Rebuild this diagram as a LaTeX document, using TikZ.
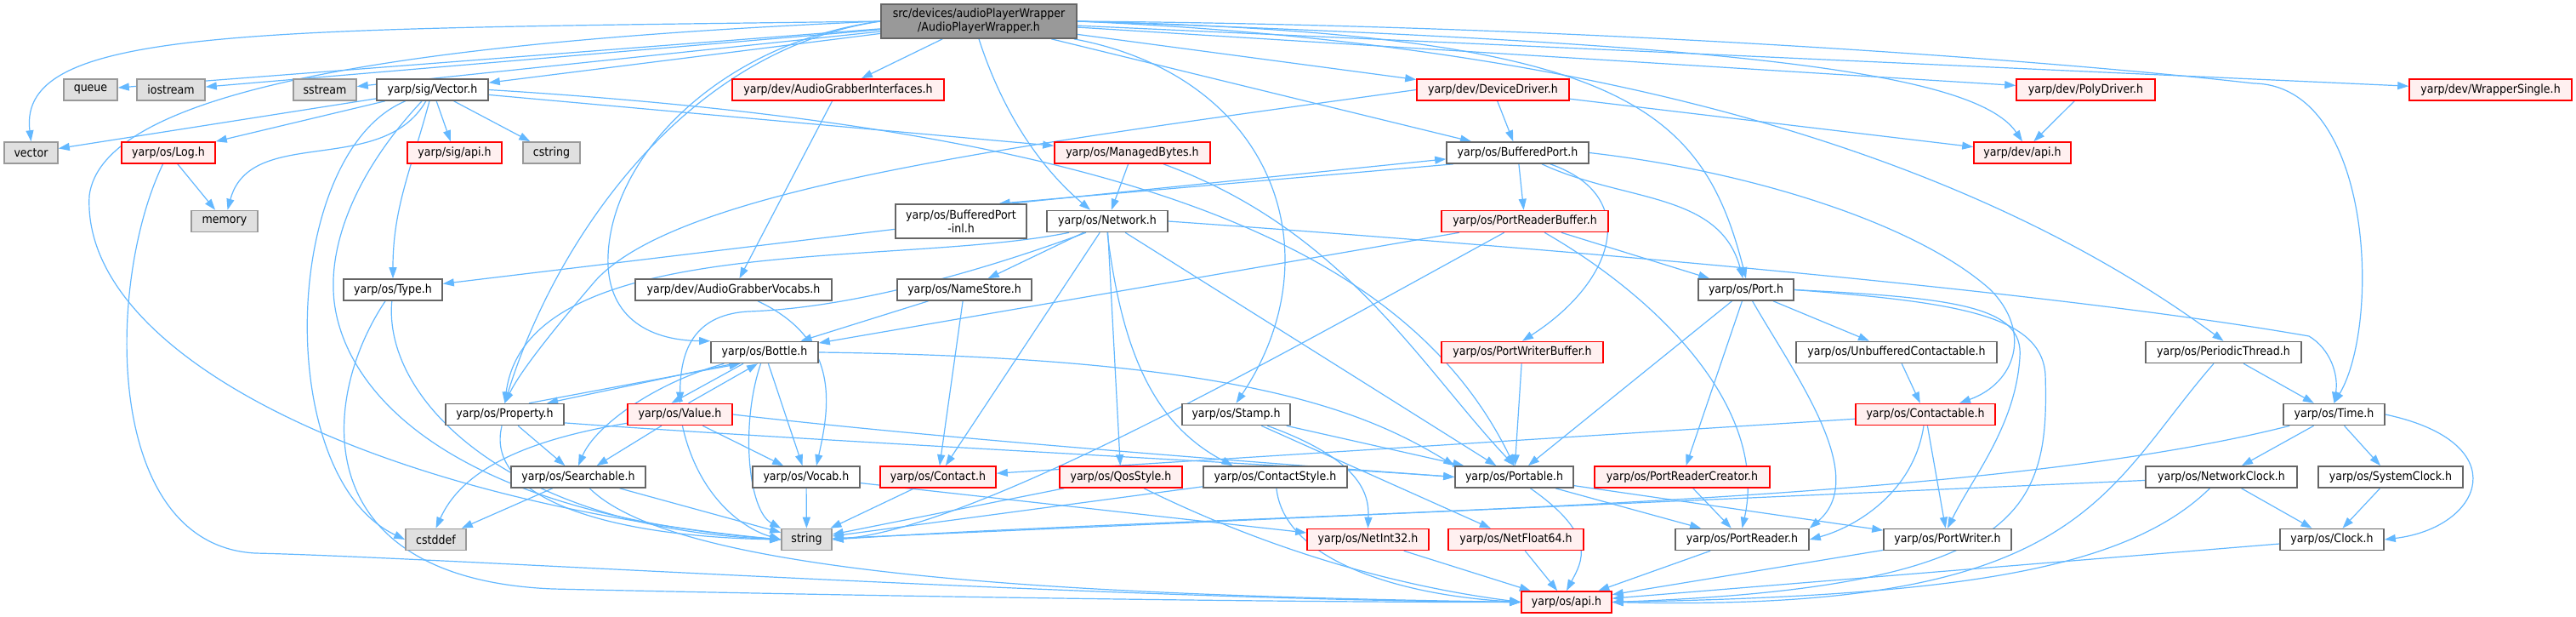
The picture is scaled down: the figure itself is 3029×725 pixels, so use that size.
\documentclass[tikz,border=0pt]{standalone}
\usepackage{fontspec}
\setmainfont{DejaVu Sans Condensed}
\usetikzlibrary{arrows.meta, backgrounds}

\definecolor{edgeblue}{HTML}{63B8FF}
\definecolor{boxgray}{HTML}{666666}
\definecolor{sysgray}{HTML}{999999}
\definecolor{sysfill}{HTML}{E0E0E0}
\definecolor{truncfill}{HTML}{FFF0F0}
\definecolor{rootfill}{HTML}{999999}

\tikzset{
  hdr/.style={draw=boxgray, fill=white, line width=1.6pt, minimum height=25pt,
    inner sep=2pt, font=\fontsize{14}{16}\selectfont},
  trunc/.style={hdr, draw=red, fill=truncfill},
  sys/.style={hdr, draw=sysgray, fill=sysfill},
  root/.style={hdr, fill=rootfill, minimum height=40pt, align=center},
  dep/.style={draw=edgeblue, line width=1.2pt, -{Triangle[length=13pt,width=9pt]}},
}

\begin{document}
\begin{tikzpicture}[x=1pt, y=-1pt]
  \useasboundingbox (0,0) rectangle (3029,725);

  % Root file
  \node[root, minimum width=230pt] (apw) at (1151,25) {src/devices/audioPlayerWrapper\\/AudioPlayerWrapper.h};

  % Row 1
  \node[sys, minimum width=63pt] (queue) at (106.5,105.5) {queue};
  \node[sys, minimum width=80pt] (iostream) at (201,105.5) {iostream};
  \node[sys, minimum width=74pt] (sstream) at (382,105.5) {sstream};
  \node[hdr, minimum width=131pt] (vecH) at (508.5,105.5) {yarp/sig/Vector.h};
  \node[trunc, minimum width=249pt] (agi) at (985.5,105.5) {yarp/dev/AudioGrabberInterfaces.h};
  \node[trunc, minimum width=179pt] (ddrv) at (1755.5,105.5) {yarp/dev/DeviceDriver.h};
  \node[trunc, minimum width=163pt] (poly) at (2452.5,105.5) {yarp/dev/PolyDriver.h};
  \node[trunc, minimum width=191pt] (wrap) at (2928.5,105.5) {yarp/dev/WrapperSingle.h};

  % Row 2
  \node[sys, minimum width=63pt] (vector) at (36.5,179.5) {vector};
  \node[trunc, minimum width=110pt] (log) at (198,179.5) {yarp/os/Log.h};
  \node[trunc, minimum width=111pt] (sigapi) at (534.5,179.5) {yarp/sig/api.h};
  \node[sys, minimum width=67pt] (cstring) at (648.5,179.5) {cstring};
  \node[trunc, minimum width=183pt] (mbytes) at (1331.5,179.5) {yarp/os/ManagedBytes.h};
  \node[hdr, minimum width=167pt] (bport) at (1784.5,179.5) {yarp/os/BufferedPort.h};
  \node[trunc, minimum width=114pt] (devapi) at (2378,179.5) {yarp/dev/api.h};

  % Row 3
  \node[sys, minimum width=78pt] (memory) at (264,260) {memory};
  \node[hdr, minimum width=154pt, minimum height=40pt, align=center] (bpinl) at (1130,260) {yarp/os/BufferedPort\\-inl.h};
  \node[hdr, minimum width=142pt] (network) at (1302,260) {yarp/os/Network.h};
  \node[trunc, minimum width=196pt] (prbuf) at (1793,260) {yarp/os/PortReaderBuffer.h};

  % Row 4
  \node[hdr, minimum width=116pt] (type) at (462,340.5) {yarp/os/Type.h};
  \node[hdr, minimum width=231pt] (agv) at (862.5,340.5) {yarp/dev/AudioGrabberVocabs.h};
  \node[hdr, minimum width=158pt] (nstore) at (1134,340.5) {yarp/os/NameStore.h};
  \node[hdr, minimum width=112pt] (port) at (2053,340.5) {yarp/os/Port.h};

  % Row 5
  \node[hdr, minimum width=126pt] (bottle) at (899,414) {yarp/os/Bottle.h};
  \node[trunc, minimum width=190pt] (pwbuf) at (1790,414) {yarp/os/PortWriterBuffer.h};
  \node[hdr, minimum width=236pt] (ucont) at (2230,414) {yarp/os/UnbufferedContactable.h};
  \node[hdr, minimum width=183pt] (pthread) at (2614.5,414) {yarp/os/PeriodicThread.h};

  % Row 6
  \node[hdr, minimum width=139pt] (property) at (593.5,487) {yarp/os/Property.h};
  \node[trunc, minimum width=123pt] (value) at (799.5,487) {yarp/os/Value.h};
  \node[hdr, minimum width=127pt] (stamp) at (1453.5,487) {yarp/os/Stamp.h};
  \node[trunc, minimum width=164pt] (contactable) at (2264,487) {yarp/os/Contactable.h};
  \node[hdr, minimum width=119pt] (time) at (2744.5,487) {yarp/os/Time.h};

  % Row 7
  \node[hdr, minimum width=158pt] (searchable) at (680,560.5) {yarp/os/Searchable.h};
  \node[hdr, minimum width=126pt] (vocab) at (948,560.5) {yarp/os/Vocab.h};
  \node[trunc, minimum width=136pt] (contact) at (1103,560.5) {yarp/os/Contact.h};
  \node[trunc, minimum width=144pt] (qos) at (1318,560.5) {yarp/os/QosStyle.h};
  \node[hdr, minimum width=169pt] (cstyle) at (1499.5,560.5) {yarp/os/ContactStyle.h};
  \node[hdr, minimum width=139pt] (portable) at (1780.5,560.5) {yarp/os/Portable.h};
  \node[trunc, minimum width=206pt] (prcreator) at (1978,560.5) {yarp/os/PortReaderCreator.h};
  \node[hdr, minimum width=178pt] (nclock) at (2612,560.5) {yarp/os/NetworkClock.h};
  \node[hdr, minimum width=170pt] (sclock) at (2811,560.5) {yarp/os/SystemClock.h};

  % Row 8
  \node[sys, minimum width=71pt] (cstddef) at (512.5,634) {cstddef};
  \node[sys, minimum width=59pt] (string) at (948.5,634) {string};
  \node[trunc, minimum width=143pt] (netint) at (1608.5,634) {yarp/os/NetInt32.h};
  \node[trunc, minimum width=159pt] (netfloat) at (1782.5,634) {yarp/os/NetFloat64.h};
  \node[hdr, minimum width=157pt] (preader) at (2048.5,634) {yarp/os/PortReader.h};
  \node[hdr, minimum width=150pt] (pwriter) at (2290,634) {yarp/os/PortWriter.h};
  \node[hdr, minimum width=122pt] (clock) at (2742,634) {yarp/os/Clock.h};

  % Row 9
  \node[trunc, minimum width=106pt] (osapi) at (1842,707.5) {yarp/os/api.h};

  \begin{pgfonlayer}{background}
    \fill[white] (0,0) rectangle (3029,725);

    % Includes of the root file
    \draw[dep] (apw.west) .. controls (300,35) and (20,30) .. (vector.north);
    \draw[dep] (apw) -- (queue);
    \draw[dep] (apw) -- (iostream);
    \draw[dep] (apw) -- (sstream);
    \draw[dep] (apw) -- (vecH);
    \draw[dep] (apw.west) .. controls (450,50) and (120,110) .. (105,230) .. controls (95,420) and (450,590) .. (string.west);
    \draw[dep] (apw.west) .. controls (800,60) and (650,290) .. (property.north);
    \draw[dep] (apw.west) .. controls (850,50) and (720,180) .. (715,300) .. controls (712,370) and (760,400) .. (bottle.north west);
    \draw[dep] (apw) -- (agi);
    \draw[dep] (apw.south) .. controls (1175,120) and (1215,190) .. ([xshift=-20pt]network.north);
    \draw[dep] (apw) .. controls (1500,90) and (1570,300) .. (stamp.north);
    \draw[dep] (apw) -- (ddrv);
    \draw[dep] (apw) -- (bport);
    \draw[dep] (apw.east) .. controls (1900,40) and (2000,120) .. (port.north);
    \draw[dep] (apw.east) .. controls (2000,50) and (2320,80) .. (devapi.north);
    \draw[dep] (apw) -- (poly);
    \draw[dep] (apw) -- (wrap);
    \draw[dep] (apw.east) .. controls (1850,50) and (2300,170) .. (pthread.north);
    \draw[dep] (apw.east) .. controls (1900,30) and (2450,75) .. (2650,98) .. controls (2790,100) and (2800,380) .. (time.north);

    % yarp/sig
    \draw[dep] (vecH) -- (vector);
    \draw[dep] (vecH) -- (log);
    \draw[dep] (vecH) to[out=240,in=75] (memory);
    \draw[dep] (vecH) -- (sigapi);
    \draw[dep] (vecH) -- (cstring);
    \draw[dep] (vecH) to[out=255,in=90] (type);
    \draw[dep] (vecH) .. controls (330,180) and (320,560) .. (cstddef.west);
    \draw[dep] (vecH) .. controls (420,200) and (390,280) .. (392,340) .. controls (394,440) and (500,600) .. (string.west);
    \draw[dep] (vecH) -- (mbytes);
    \draw[dep] (vecH.east) .. controls (1300,150) and (1650,280) .. (portable.north);
    \draw[dep] (log) -- (memory);
    \draw[dep] (log) .. controls (125,330) and (120,640) .. (300,650) .. controls (520,655) and (1300,705) .. (osapi.west);
    \draw[dep] (type) .. controls (450,470) and (600,620) .. (string.west);
    \draw[dep] (type) .. controls (375,470) and (360,680) .. (650,692) .. controls (1000,700) and (1500,708) .. (osapi.west);

    % yarp/dev
    \draw[dep] (agi) -- (agv);
    \draw[dep] (agv) .. controls (990,400) and (975,480) .. ([xshift=12pt]vocab.north);
    \draw[dep] (ddrv.west) .. controls (1200,170) and (800,220) .. (700,330) .. controls (640,400) and (610,440) .. (property.north);
    \draw[dep] (ddrv) -- (bport);
    \draw[dep] (ddrv) -- (devapi);
    \draw[dep] (poly) -- (devapi);

    % Ports and buffers
    \draw[dep] (mbytes) -- (network);
    \draw[dep] (mbytes) .. controls (1580,270) and (1670,430) .. (portable.north);
    \draw[dep] (bport.190) -- (bpinl.25);
    \draw[dep] (bpinl.20) -- (bport.185);
    \draw[dep] (bpinl) -- (type);
    \draw[dep] (bport) -- (prbuf);
    \draw[dep] (bport) to[out=-25,in=105] (port);
    \draw[dep] (bport) .. controls (1930,230) and (1900,330) .. (pwbuf.north);
    \draw[dep] (bport.east) .. controls (2050,200) and (2250,260) .. (2340,340) .. controls (2390,390) and (2370,450) .. ([xshift=40pt]contactable.north);
    \draw[dep] (prbuf) -- (bottle);
    \draw[dep] (prbuf) .. controls (1500,420) and (1150,620) .. (string.east);
    \draw[dep] (prbuf) .. controls (1950,350) and (2080,480) .. (preader.north);
    \draw[dep] (prbuf) -- (port);
    \draw[dep] (pwbuf) -- (portable);
    \draw[dep] (port) -- (ucont);
    \draw[dep] (port) -- (portable);
    \draw[dep] (port) -- (prcreator);
    \draw[dep] (port) .. controls (2110,440) and (2200,560) .. (preader.north east);
    \draw[dep] (port.east) .. controls (2300,350) and (2380,360) .. (2375,420) .. controls (2370,500) and (2320,560) .. (pwriter.north);
    \draw[dep] (port.east) .. controls (2300,355) and (2400,370) .. (2405,440) .. controls (2410,600) and (2380,690) .. (osapi.east);
    \draw[dep] (ucont) -- (contactable);
    \draw[dep] (contactable) -- (contact);
    \draw[dep] (contactable) .. controls (2250,580) and (2180,620) .. (preader.east);
    \draw[dep] (contactable) -- (pwriter);

    % Network
    \draw[dep] ([xshift=-45pt]network.south) .. controls (1050,315) and (620,270) .. (property.north);
    \draw[dep] ([xshift=-25pt]network.south) .. controls (1150,320) and (1000,362) .. (880,366) .. controls (810,370) and (800,420) .. (value.north);
    \draw[dep] (network) -- (nstore);
    \draw[dep] (network) -- (contact);
    \draw[dep] (network) -- (qos);
    \draw[dep] (network.south) .. controls (1320,420) and (1360,500) .. ([xshift=-50pt]cstyle.north);
    \draw[dep] (network) -- (portable);
    \draw[dep] (network.east) .. controls (1800,290) and (2400,340) .. (2715,395) .. controls (2740,410) and (2750,440) .. (time.north);
    \draw[dep] (nstore) -- (bottle);
    \draw[dep] (nstore) -- (contact);

    % Bottle, Property, Value
    \draw[dep] (bottle.200) -- (property.15);
    \draw[dep] (property.25) -- (bottle.205);
    \draw[dep] ([xshift=-25pt]bottle.south) -- ([xshift=-10pt]value.north);
    \draw[dep] ([xshift=10pt]value.north) -- ([xshift=-8pt]bottle.south);
    \draw[dep] (bottle) .. controls (770,450) and (700,500) .. (searchable.north);
    \draw[dep] (bottle) -- (vocab);
    \draw[dep] (bottle) .. controls (870,500) and (880,600) .. (string.north west);
    \draw[dep] (bottle.east) .. controls (1450,420) and (1600,480) .. (portable.north west);
    \draw[dep] (property) -- (searchable);
    \draw[dep] (property) .. controls (570,580) and (700,630) .. (string.west);
    \draw[dep] (property.-8) .. controls (950,518) and (1500,545) .. (portable.west);
    \draw[dep] (value) -- (searchable);
    \draw[dep] (value) -- (vocab);
    \draw[dep] (value) .. controls (820,580) and (870,620) .. (string.west);
    \draw[dep] (value) .. controls (600,520) and (540,560) .. (cstddef.north);
    \draw[dep] (value.east) .. controls (1100,515) and (1500,545) .. (portable.west);
    \draw[dep] (searchable) -- (cstddef);
    \draw[dep] (searchable) -- (string);
    \draw[dep] (searchable) .. controls (800,680) and (1300,700) .. (osapi.west);
    \draw[dep] (vocab) -- (string);
    \draw[dep] (vocab) -- (netint);

    % Contact, styles, stamp
    \draw[dep] (contact) -- (string);
    \draw[dep] (qos) -- (string);
    \draw[dep] (qos) .. controls (1500,650) and (1650,690) .. (osapi.west);
    \draw[dep] (cstyle) -- (string);
    \draw[dep] (cstyle) .. controls (1510,660) and (1650,700) .. (osapi.west);
    \draw[dep] (stamp) -- (portable);
    \draw[dep] (stamp) .. controls (1600,540) and (1610,580) .. (netint.north);
    \draw[dep] (stamp) -- (netfloat);

    % Portable and readers
    \draw[dep] (portable) -- (preader);
    \draw[dep] (portable) -- (pwriter);
    \draw[dep] (portable) .. controls (1880,630) and (1860,660) .. (osapi.north);
    \draw[dep] (prcreator) -- (preader);
    \draw[dep] (netint) -- (osapi);
    \draw[dep] (netfloat) -- (osapi);
    \draw[dep] (preader) -- (osapi);
    \draw[dep] (pwriter) -- (osapi);

    % Threads and clocks
    \draw[dep] (pthread) -- (time);
    \draw[dep] (pthread) .. controls (2470,580) and (2450,720) .. (osapi.east);
    \draw[dep] (time) -- (nclock);
    \draw[dep] (time) -- (sclock);
    \draw[dep] (time.east) .. controls (2960,520) and (2920,620) .. (clock.east);
    \draw[dep] (time) .. controls (2300,600) and (1500,600) .. (string.east);
    \draw[dep] (nclock) -- (clock);
    \draw[dep] (nclock) .. controls (2500,670) and (2300,700) .. (osapi.east);
    \draw[dep] (nclock) -- (string);
    \draw[dep] (sclock) -- (clock);
    \draw[dep] (clock) -- (osapi);
  \end{pgfonlayer}
\end{tikzpicture}
\end{document}
